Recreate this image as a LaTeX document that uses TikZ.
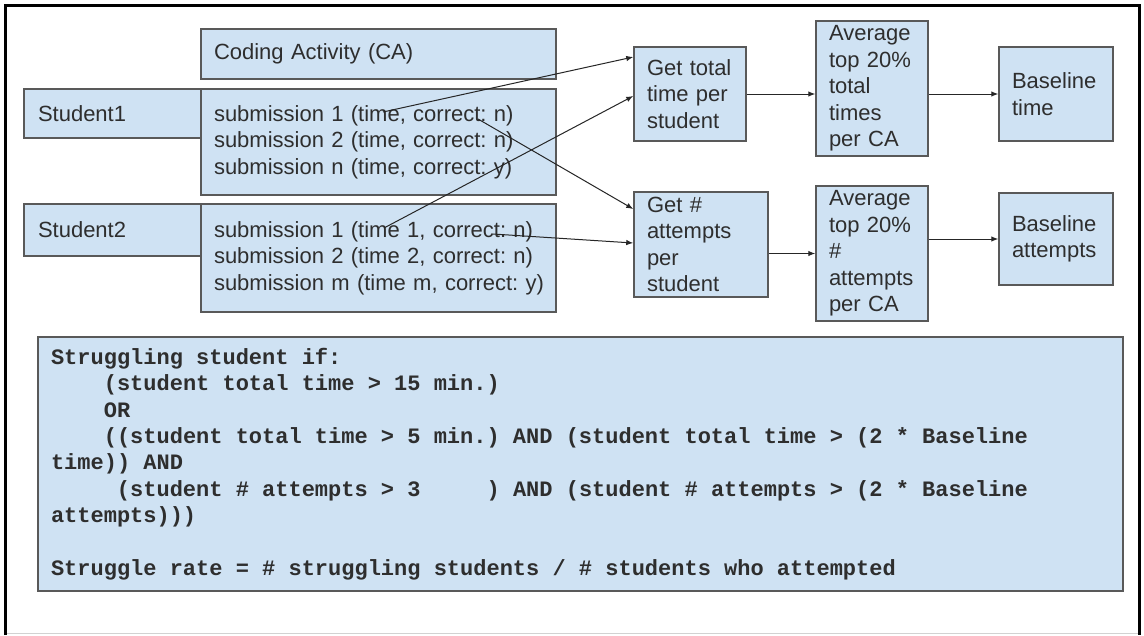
\documentclass[tikz,border=0pt]{standalone}
\usepackage{fontspec}
\setmainfont{Liberation Sans}
\newfontfamily\codefont{Liberation Mono}
\usetikzlibrary{arrows.meta,calc}
\definecolor{boxfill}{HTML}{CFE2F3}
\definecolor{boxline}{HTML}{595959}
\definecolor{txt}{HTML}{2E2E2E}
\newcommand\monosetup{\codefont\bfseries\fontsize{22}{26.4}\selectfont\frenchspacing}
\newcommand\monospaces{\spaceskip=13.2pt plus 0pt minus 0pt\xspaceskip=13.2pt plus 0pt minus 0pt\relax}
\begin{document}
\frenchspacing
\begin{tikzpicture}[x=1pt,y=-1pt,
  box/.style={draw=boxline, fill=boxfill, line width=1.5pt, inner ysep=0pt, inner xsep=13pt,
    align=left, text=txt, font=\fontsize{22}{26.4}\selectfont\frenchspacing},
  size/.style n args={3}{minimum width=#1pt, minimum height=#2pt, text width=#3pt},
  conn/.style={draw=black!85, line width=1pt, -{Latex[length=7pt,width=5.5pt]}},
  frame/.style={draw=black, line width=3pt}]
\useasboundingbox (0,0) rectangle (1144,635);
\fill[white] (0,0) rectangle (1144,635);
\draw[frame] (5.5,635) -- (5.5,5.5) -- (1139.5,5.5) -- (1139.5,635);
\draw[gray!35, line width=1pt] (7,633.5) -- (1138,633.5);

% left column
\node[box, size={355}{50}{329}] (ca) at (378.5,54) {Coding Activity (CA)};
\node[box, size={176}{49}{150}, inner xsep=14pt] (st1) at (113,113.5) {Student1};
\node[box, size={355}{106}{329}] (sub1) at (378.5,142)
  {\mbox{submission 1 (time, correct: n)}\\\mbox{submission 2 (time, correct: n)}\\\mbox{submission n (time, correct: y)}};
\node[box, size={176}{52}{150}, inner xsep=14pt] (st2) at (113,230) {Student2};
\node[box, size={355}{108}{329}] (sub2) at (378.5,258)
  {\mbox{submission 1 (time 1, correct: n)}\\\mbox{submission 2 (time 2, correct: n)}\\\mbox{submission m (time m, correct: y)}};

% right part
\node[box, size={112}{94}{86}] (gt) at (690,94) {Get total\\time per\\student};
\node[box, size={112}{135}{86}] (avt) at (872,88.5) {Average\\top 20\%\\total\\times\\per CA};
\node[box, size={114}{94}{88}] (bt) at (1056,94) {Baseline\\time};
\node[box, size={134}{105}{108}] (ga) at (701,244.5) {Get \#\\attempts\\per\\student};
\node[box, size={112}{135}{86}] (ava) at (872,253.5) {Average\\top 20\%\\\#\\attempts\\per CA};
\node[box, size={114}{92}{88}] (ba) at (1056,239) {Baseline\\attempts};

% code box
\node[box, size={1085}{254}{1059}, font=\monosetup] (code) at (580.5,464)
  {\monospaces Struggling student if:\\
   \hspace*{52.8pt}(student total time > 15 min.)\\
   \hspace*{52.8pt}OR\\
   \hspace*{52.8pt}((student total time > 5 min.) AND (student total time > (2 * Baseline\\
   time)) AND\\
   \hspace*{66pt}(student \# attempts > 3\hspace{66pt}) AND (student \# attempts > (2 * Baseline\\
   attempts)))\\
   \mbox{}\\
   Struggle rate = \# struggling students / \# students who attempted};

% start points inside the submission texts
\coordinate (s1time) at (383,112);
\coordinate (s1corr) at (478,119);
\coordinate (s2time) at (384,228);
\coordinate (s2corr) at (493,234);

% connectors
\draw[conn] (s1time) -- ([yshift=37pt]gt.west);
\draw[conn] (s2time) -- ([yshift=-2pt]gt.west);
\draw[conn] (s1corr) -- ([yshift=35.5pt]ga.west);
\draw[conn] (s2corr) -- ([yshift=1.5pt]ga.west);
\draw[conn] (gt.east) -- (gt.east -| avt.west);
\draw[conn] (avt.east |- bt.west) -- (bt.west);
\draw[conn] (ga.east |- ava.west) -- (ava.west);
\draw[conn] (ava.east |- ba.west) -- (ba.west);
\end{tikzpicture}
\end{document}
